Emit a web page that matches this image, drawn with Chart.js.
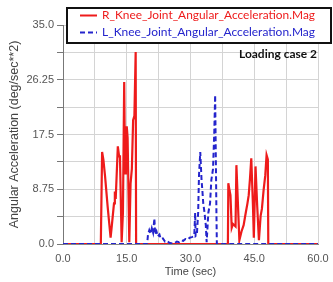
<!DOCTYPE html>
<html>
<head>
<meta charset="utf-8">
<script src="https://cdn.jsdelivr.net/npm/chart.js@4.4.1/dist/chart.umd.min.js"></script>
<style>
html,body{margin:0;padding:0;background:#fff;}
#wrap{position:relative;width:333px;height:282px;}
</style>
</head>
<body>
<div id="wrap"><canvas id="c" width="333" height="282"></canvas></div>
<script>
const seriesNames = ["R_Knee_Joint_Angular_Acceleration.Mag", "L_Knee_Joint_Angular_Acceleration.Mag"];
const annotationText = "Loading case 2";
const xTitle = "Time (sec)";
const yTitle = "Angular Acceleration (deg/sec**2)";

const rTime = [0, 8.9, 9.2, 9.5, 9.9, 10.5, 11.2, 11.5, 12.0, 12.2, 12.4, 12.9, 13.2, 13.4, 13.8, 14.1, 14.4, 14.6, 14.8, 15.0, 15.2, 15.6, 15.9, 16.2, 16.5, 16.8, 17.1, 17.2,
  38.8, 38.9, 39.2, 39.4, 39.7, 40.0, 40.6, 40.8, 41.5, 42.0, 42.5, 43.0, 43.4, 43.7, 44.0, 44.3, 44.7, 44.9, 45.3, 45.7, 46.1, 46.5, 46.8, 47.2, 47.6, 47.9, 48.2, 48.3, 60];
const rValue = [0, 0, 14.7, 13.5, 10.8, 6.0, 1.0, 3.0, 6.5, 8.4, 7.2, 15.6, 14.0, 14.2, 0.3, 5.0, 25.9, 11.3, 15.0, 18.8, 17.0, 0.3, 9.7, 12.0, 19.8, 20.5, 30.7, 0,
  0, 9.7, 8.5, 7.8, 2.6, 3.2, 2.8, 12.6, 0.6, 2.0, 3.0, 5.0, 6.5, 7.8, 10.5, 13.7, 6.0, 1.0, 12.4, 6.0, 0.6, 4.5, 5.6, 8.6, 11.0, 14.2, 13.5, 0, 0];

const lTime = [0, 19.8, 20.0, 20.3, 20.6, 20.9, 21.2, 21.5, 21.7, 22.0, 22.3, 22.7, 23.0, 23.5, 24.0, 24.5, 25.0, 25.6, 26.2, 26.8, 27.3, 27.8, 28.3, 28.8, 29.3, 29.8, 30.3, 30.7, 30.9, 31.1, 31.2, 31.5, 31.8, 32.0, 32.3, 32.6, 32.8, 33.0, 33.3, 33.6, 33.8, 34.2, 34.6, 34.9, 35.3, 35.6, 35.8, 36.1, 36.2, 60];
const lValue = [0, 0, 1.5, 2.2, 1.6, 2.5, 1.8, 4.1, 1.5, 2.0, 1.2, 1.5, 0.8, 0.9, 0.4, 0.5, 0.2, 0.1, 0.1, 0.4, 0.3, 0.6, 0.5, 0.8, 0.7, 1.0, 1.1, 1.2, 1.6, 5.0, 1.3, 1.5, 5.0, 11.0, 14.7, 10.2, 8.5, 6.5, 5.0, 3.0, 0.3, 5.0, 6.5, 10.2, 12.0, 18.0, 23.8, 5.0, 0, 0];

const xTicksLabeled = [0, 15, 30, 45, 60];
const yTicksLabeled = [0, 8.75, 17.5, 26.25, 35];

const RED = '#ee1b1b';
const BLUE = '#2424cc';

function toPts(t, v){ return t.map((x,i)=>({x:x, y:v[i]})); }
function fmt(v){ let s = String(Math.round(v*1000)/1000); if(s.indexOf('.')<0) s += '.0'; return s; }
function isLabeled(v, list){ return list.some(l => Math.abs(l - v) < 1e-6); }

const overlay = {
  id: 'overlay',
  afterDraw(chart){
    const ctx = chart.ctx;
    ctx.save();
    ctx.fillStyle = '#fff';
    ctx.fillRect(67, 8, 264, 35);
    ctx.strokeStyle = '#111';
    ctx.lineWidth = 2;
    ctx.strokeRect(67, 8, 264, 35);
    const items = [
      {name: seriesNames[0], color: RED, dash: [], y: 15.5},
      {name: seriesNames[1], color: BLUE, dash: [5,3], y: 32.5}
    ];
    items.forEach(it => {
      ctx.beginPath();
      ctx.setLineDash(it.dash);
      ctx.strokeStyle = it.color;
      ctx.lineWidth = 2;
      ctx.moveTo(80, it.y);
      ctx.lineTo(97, it.y);
      ctx.stroke();
      ctx.setLineDash([]);
      ctx.fillStyle = it.color;
      ctx.font = '12px Lato, "Liberation Sans", sans-serif';
      ctx.textBaseline = 'middle';
      ctx.textAlign = 'left';
      ctx.fillText(it.name, 102, it.y, 213);
    });
    ctx.fillStyle = '#111';
    ctx.font = 'bold 12px Lato, "Liberation Sans", sans-serif';
    ctx.textBaseline = 'middle';
    ctx.textAlign = 'right';
    ctx.fillText(annotationText, 317, 54, 78);
    ctx.restore();
  }
};

new Chart(document.getElementById('c'), {
  type: 'line',
  data: {
    datasets: [
      {label: seriesNames[0], data: toPts(rTime, rValue), borderColor: RED, borderWidth: 2.2, pointRadius: 0, tension: 0, order: 2},
      {label: seriesNames[1], data: toPts(lTime, lValue), borderColor: BLUE, borderWidth: 2.0, borderDash: [5,3], pointRadius: 0, tension: 0, order: 1}
    ]
  },
  options: {
    responsive: false,
    animation: false,
    layout: {padding: {top: 25, right: 15, left: 0, bottom: 0}},
    plugins: {legend: {display: false}, tooltip: {enabled: false}},
    scales: {
      x: {
        type: 'linear', min: 0, max: 60,
        afterFit(s){ s.height = 38; },
        grid: {color: '#d4d4d4', tickLength: 6, tickColor: 'rgba(0,0,0,0)'},
        border: {color: '#888', width: 1},
        ticks: {stepSize: 7.5, autoSkip: false, maxRotation: 0, padding: 2, color: '#555',
          font: {family: '"Liberation Sans", Arial, sans-serif', size: 11},
          callback: v => isLabeled(v, xTicksLabeled) ? fmt(v) : ''},
        title: {display: true, text: xTitle, color: '#444', font: {family: '"Liberation Sans", Arial, sans-serif', size: 11}, padding: {top: 0, bottom: 3}}
      },
      y: {
        min: 0, max: 35,
        afterFit(s){ s.width = 63; },
        grid: {color: '#d4d4d4', tickLength: 6, tickColor: '#777'},
        border: {color: '#777', width: 1},
        ticks: {stepSize: 4.375, autoSkip: false, padding: 3, color: '#555',
          font: {family: '"Liberation Sans", Arial, sans-serif', size: 11},
          callback: v => isLabeled(v, yTicksLabeled) ? fmt(v) : ''},
        title: {display: true, text: yTitle, color: '#444', font: {family: '"Liberation Sans", Arial, sans-serif', size: 12.5}, padding: {top: 7, bottom: 0}}
      }
    }
  },
  plugins: [overlay]
});
</script>
</body>
</html>
